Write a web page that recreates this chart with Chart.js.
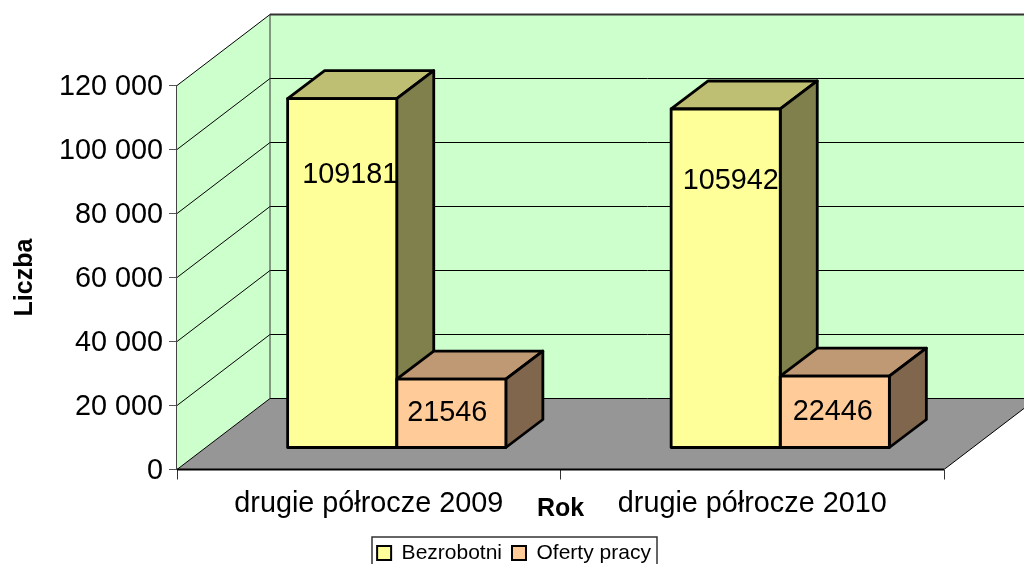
<!DOCTYPE html>
<html>
<head>
<meta charset="utf-8">
<style>
    body { margin: 0; background: #fff; overflow: hidden; }
    canvas { display: block; }
</style>
<script src="https://cdn.jsdelivr.net/npm/chart.js@4/dist/chart.umd.min.js"></script>
</head>
<body>
<canvas id="chart" width="1024" height="564"></canvas>
<script>
// Dane
const categories = ['drugie półrocze 2009', 'drugie półrocze 2010'];
const bezrobotni = [109181, 105942];
const ofertyPracy = [21546, 22446];
const tickLabels = ['0', '20 000', '40 000', '60 000', '80 000', '100 000', '120 000'];

// Perspektywa: przesunięcie tylnej ściany i przesunięcie / głębokość słupków
const WALL_DX = 93, WALL_DY = -71;
const BAR_DX = 28, BAR_DY = -21.5;
const DEPTH_DX = 37, DEPTH_DY = -28;
const BAR_LINE = 2.8;
const FONT = '"Liberation Sans", Arial, sans-serif';

// Kolory bocznych ścian słupków: [góra, bok] dla każdej serii
const faceColors = [['#BFBF73', '#80804D'], ['#BF9973', '#80664D']];
// Korekta położenia etykiet wartości względem słupka
const labelNudgeX = [[8, 5], [-4, -2]];
const labelNudgeY = [[7, 4], [0, 0]];

function poly(ctx, pts, fill, stroke, lineWidth) {
    ctx.beginPath();
    pts.forEach((p, i) => i ? ctx.lineTo(p[0], p[1]) : ctx.moveTo(p[0], p[1]));
    ctx.closePath();
    if (fill) { ctx.fillStyle = fill; ctx.fill(); }
    if (stroke) { ctx.strokeStyle = stroke; ctx.lineWidth = lineWidth; ctx.lineJoin = 'round'; ctx.stroke(); }
}

function line(ctx, x1, y1, x2, y2, color, width) {
    ctx.beginPath();
    ctx.moveTo(x1, y1);
    ctx.lineTo(x2, y2);
    ctx.strokeStyle = color;
    ctx.lineWidth = width;
    ctx.stroke();
}

// Narożniki przedniej ściany słupka po przesunięciu w głąb podłogi
function frontOf(bar) {
    return {
        l: bar.x - bar.width / 2 + BAR_DX,
        r: bar.x + bar.width / 2 + BAR_DX,
        t: bar.y + BAR_DY,
        b: bar.base + BAR_DY
    };
}

const box3d = {
    id: 'box3d',
    afterLayout(chart) {
        // legenda wyśrodkowana na całym płótnie, a nie na obszarze wykresu
        chart.legend.left += 42;
        chart.legend.right += 42;
    },
    beforeDatasetsDraw(chart) {
        const ctx = chart.ctx;
        const { left, right, top, bottom } = chart.chartArea;
        const yScale = chart.scales.y;
        ctx.save();

        // ściany i podłoga
        poly(ctx, [[left + WALL_DX, top + WALL_DY], [right + WALL_DX, top + WALL_DY],
            [right + WALL_DX, bottom + WALL_DY], [left + WALL_DX, bottom + WALL_DY]], '#CCFFCC');
        poly(ctx, [[left, top], [left + WALL_DX, top + WALL_DY],
            [left + WALL_DX, bottom + WALL_DY], [left, bottom]], '#CCFFCC');
        poly(ctx, [[left, bottom], [left + WALL_DX, bottom + WALL_DY],
            [right + WALL_DX, bottom + WALL_DY], [right, bottom]], '#969696');

        // linie siatki
        yScale.ticks.forEach(t => {
            const y = yScale.getPixelForValue(t.value);
            line(ctx, left, y, left + WALL_DX, y + WALL_DY, '#000', 1);
            line(ctx, left + WALL_DX, y + WALL_DY, right + WALL_DX, y + WALL_DY, '#000', 1);
        });
        line(ctx, left + WALL_DX, top + WALL_DY, right + WALL_DX, top + WALL_DY, '#333', 2);
        line(ctx, left + WALL_DX, top + WALL_DY, left + WALL_DX, bottom + WALL_DY, '#333', 1);
        line(ctx, left, bottom, right, bottom, '#000', 2);
        line(ctx, right, bottom, right + WALL_DX, bottom + WALL_DY, '#000', 1);

        // góra i bok słupków, seria po serii
        chart.data.datasets.forEach((ds, i) => {
            chart.getDatasetMeta(i).data.forEach(bar => {
                const { l, r, t, b } = frontOf(bar);
                poly(ctx, [[l, t], [l + DEPTH_DX, t + DEPTH_DY], [r + DEPTH_DX, t + DEPTH_DY], [r, t]],
                    faceColors[i][0], '#000', BAR_LINE);
                poly(ctx, [[r, t], [r + DEPTH_DX, t + DEPTH_DY], [r + DEPTH_DX, b + DEPTH_DY], [r, b]],
                    faceColors[i][1], '#000', BAR_LINE);
            });
        });
        ctx.restore();
    },
    // przednie ściany wypełnia biblioteka, przesunięte w głąb podłogi
    beforeDatasetDraw(chart) {
        chart.ctx.save();
        chart.ctx.translate(BAR_DX, BAR_DY);
    },
    afterDatasetDraw(chart) {
        chart.ctx.restore();
    },
    afterDatasetsDraw(chart) {
        const ctx = chart.ctx;
        ctx.save();
        ctx.font = '28.8px ' + FONT;
        ctx.fillStyle = '#000';
        ctx.textAlign = 'center';
        ctx.textBaseline = 'middle';
        chart.data.datasets.forEach((ds, i) => {
            chart.getDatasetMeta(i).data.forEach((bar, j) => {
                const { l, r, t, b } = frontOf(bar);
                poly(ctx, [[l, t], [r, t], [r, b], [l, b]], null, '#000', BAR_LINE);
                const y = t + (b - t) * (i === 0 ? 0.2 : 0.5) + labelNudgeY[i][j];
                ctx.fillText(String(ds.data[j]), bar.x + BAR_DX + labelNudgeX[i][j], y);
            });
        });
        ctx.restore();
    },
    afterDraw(chart) {
        // ramka legendy
        const ctx = chart.ctx;
        ctx.save();
        ctx.strokeStyle = '#333';
        ctx.lineWidth = 1.5;
        ctx.strokeRect(372, 537, 285, 40);
        ctx.restore();
    }
};

new Chart(document.getElementById('chart'), {
    type: 'bar',
    data: {
        labels: categories,
        datasets: [
            { label: 'Bezrobotni', data: bezrobotni, backgroundColor: '#FFFF99', borderColor: '#000', borderWidth: 0 },
            { label: 'Oferty pracy', data: ofertyPracy, backgroundColor: '#FFCC99', borderColor: '#000', borderWidth: 0 }
        ]
    },
    options: {
        responsive: false,
        animation: false,
        categoryPercentage: 0.569,
        barPercentage: 1,
        layout: { padding: { top: 85.5, right: 80, left: 0, bottom: -9.5 } },
        plugins: {
            tooltip: { enabled: false },
            legend: {
                position: 'bottom',
                labels: {
                    color: '#000',
                    font: { family: FONT, size: 21 },
                    boxWidth: 14,
                    boxHeight: 14,
                    padding: 10,
                    generateLabels: chart => chart.data.datasets.map((ds, i) => ({
                        text: ds.label,
                        fillStyle: ds.backgroundColor,
                        strokeStyle: '#000',
                        lineWidth: 2,
                        fontColor: '#000',
                        datasetIndex: i
                    }))
                }
            }
        },
        scales: {
            x: {
                afterFit: scale => { scale.height = 63; },
                grid: { drawOnChartArea: false, drawTicks: true, tickLength: 10, color: '#333' },
                border: { display: false },
                ticks: { color: '#000', font: { family: FONT, size: 28.8 }, maxRotation: 0, padding: 7 },
                title: {
                    display: true,
                    text: 'Rok',
                    color: '#000',
                    font: { family: FONT, size: 25, weight: 'bold' },
                    padding: { top: 0, bottom: 8 }
                }
            },
            y: {
                min: 0,
                max: 120000,
                afterFit: scale => { scale.width = 177; },
                grid: { drawOnChartArea: false, drawTicks: true, tickLength: 8, color: '#555' },
                border: { display: true, color: '#444', width: 2 },
                ticks: {
                    stepSize: 20000,
                    color: '#000',
                    font: { family: FONT, size: 28.8 },
                    padding: 6,
                    labelOffset: 2,
                    callback: (value, index) => tickLabels[index]
                },
                title: {
                    display: true,
                    text: 'Liczba',
                    color: '#000',
                    font: { family: FONT, size: 25, weight: 'bold' },
                    padding: { top: 10, bottom: 0 }
                }
            }
        }
    },
    plugins: [box3d]
});
</script>
</body>
</html>
